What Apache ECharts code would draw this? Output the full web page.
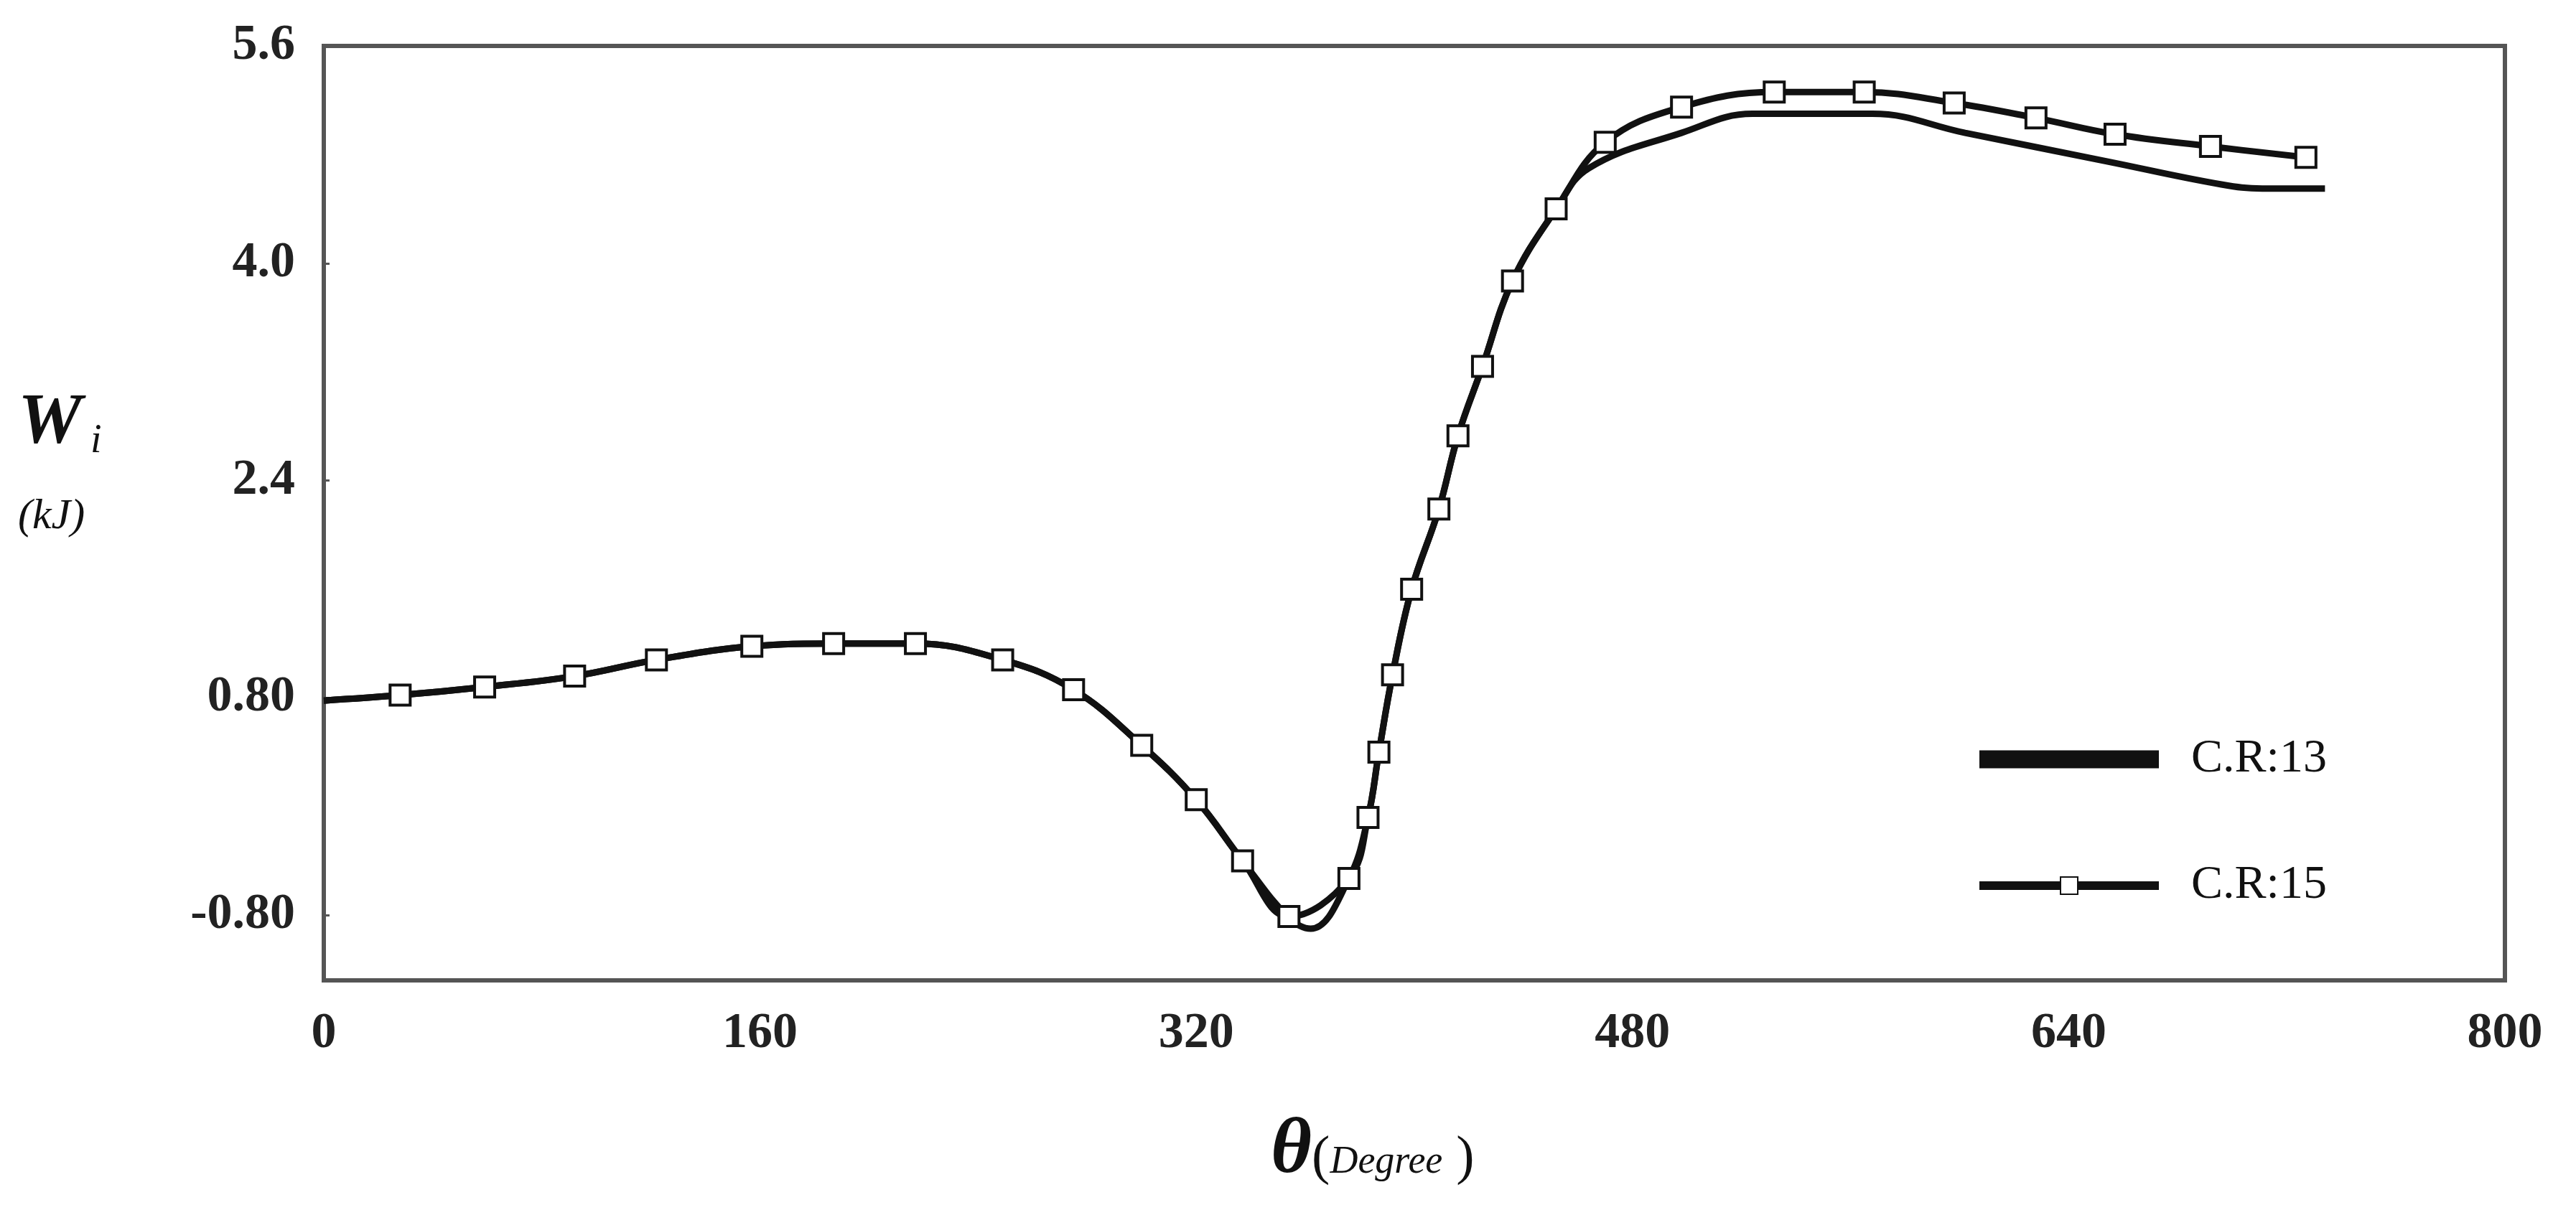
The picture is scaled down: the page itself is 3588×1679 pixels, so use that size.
<!DOCTYPE html>
<html>
<head>
<meta charset="utf-8">
<script src="https://cdn.jsdelivr.net/npm/echarts@6/dist/echarts.min.js"></script>
<style>html,body{margin:0;padding:0;background:#fff}#main{width:3588px;height:1679px}</style>
</head>
<body>
<div id="main"></div>
<script>
// crank angle (deg) and work values (kJ)
var cr15Deg = [0, 28, 59, 92, 122, 157, 187, 217, 249, 275, 300, 320, 337, 354, 376, 383, 387, 392, 399, 409, 416, 425, 436, 452, 470, 498, 532, 565, 598, 628, 657, 692, 727];
var cr15Val = [0.78, 0.82, 0.88, 0.96, 1.08, 1.18, 1.20, 1.20, 1.08, 0.86, 0.45, 0.05, -0.40, -0.81, -0.53, -0.08, 0.40, 0.97, 1.60, 2.19, 2.73, 3.24, 3.87, 4.40, 4.89, 5.15, 5.26, 5.26, 5.18, 5.07, 4.95, 4.86, 4.78];
var cr13Deg = [0, 28, 59, 92, 122, 157, 187, 217, 249, 275, 300, 320, 337, 354, 362, 376, 383, 387, 392, 399, 409, 416, 425, 436, 452, 464, 498, 524, 568, 602, 654, 696, 711, 734];
var cr13Val = [0.78, 0.82, 0.88, 0.96, 1.08, 1.18, 1.20, 1.20, 1.08, 0.86, 0.45, 0.05, -0.40, -0.82, -0.90, -0.53, -0.08, 0.40, 0.97, 1.60, 2.19, 2.73, 3.24, 3.87, 4.40, 4.70, 4.96, 5.10, 5.10, 4.96, 4.75, 4.58, 4.55, 4.55];
var yTicks = [-0.8, 0.8, 2.4, 4.0, 5.6];
var yTickLabels = ['-0.80', '0.80', '2.4', '4.0', '5.6'];

function pairs(xs, ys) {
	return xs.map(function(x, i) { return [x, ys[i]]; });
}

var font = 'Liberation Serif';
var chart = echarts.init(document.getElementById('main'));
var option = {
	backgroundColor : '#fff',
	animation : false,
	grid : { left : 451, right : 99, top : 64, bottom : 313, show : true, borderColor : '#555', borderWidth : 6 },
	legend : {
		orient : 'vertical', left : 2746, top : 1020, itemGap : 110, itemWidth : 250, itemHeight : 30,
		textStyle : { fontFamily : font, fontSize : 66, color : '#111', padding : [0, 0, 0, 40] },
		lineStyle : { width : 12, color : '#111' },
		data : [
			{ name : 'C.R:13', icon : 'path://M0,0 L10,0 L10,1 L0,1 Z', itemStyle : { color : '#111' } },
			{ name : 'C.R:15' }
		]
	},
	xAxis : {
		type : 'value', min : 0, max : 800, interval : 160,
		axisLine : { show : false }, axisTick : { show : false }, splitLine : { show : false },
		axisLabel : { fontFamily : font, fontWeight : 'bold', fontSize : 70, color : '#222', margin : 40 }
	},
	yAxis : {
		type : 'value', min : -1.28, max : 5.6,
		axisLine : { show : false }, splitLine : { show : false },
		axisTick : { show : true, inside : true, length : 8, customValues : yTicks, lineStyle : { color : '#555', width : 3 } },
		axisLabel : {
			fontFamily : font, fontWeight : 'bold', fontSize : 70, color : '#222', margin : 40,
			customValues : yTicks,
			formatter : function(v) {
				var i = yTicks.indexOf(Math.round(v * 10) / 10);
				return i >= 0 ? yTickLabels[i] : '';
			}
		}
	},
	graphic : [
		{ type : 'text', left : 25, top : 540, style : {
			text : '{w|W}{i|i}', rich : {
				w : { fontFamily : font, fontWeight : 'bold', fontStyle : 'italic', fontSize : 100, fill : '#111' },
				i : { fontFamily : font, fontStyle : 'italic', fontSize : 56, fill : '#111', padding : [50, 0, 0, 12] }
			} } },
		{ type : 'text', left : 25, top : 690, style : { text : '(kJ)', fontFamily : font, fontStyle : 'italic', fontSize : 60, fill : '#111' } },
		{ type : 'text', left : 1770, top : 1550, style : {
			text : '{t|θ}{d|(}{e|Degree}{d| )}', rich : {
				t : { fontFamily : font, fontWeight : 'bold', fontStyle : 'italic', fontSize : 110, fill : '#111' },
				d : { fontFamily : font, fontSize : 76, fill : '#111', padding : [20, 0, 0, 0] },
				e : { fontFamily : font, fontStyle : 'italic', fontSize : 54, fill : '#111', padding : [30, 0, 0, 0] }
			} } }
	],
	series : [
		{
			name : 'C.R:13', type : 'line', smooth : 0.4, showSymbol : false, symbol : 'none',
			lineStyle : { color : '#111', width : 9 }, itemStyle : { color : '#111' },
			data : pairs(cr13Deg, cr13Val)
		},
		{
			name : 'C.R:15', type : 'line', smooth : 0.4, symbol : 'rect', symbolSize : 28,
			lineStyle : { color : '#111', width : 9 },
			itemStyle : { color : '#fff', borderColor : '#111', borderWidth : 4 },
			data : pairs(cr15Deg, cr15Val).map(function(p, i) {
				return i === 0 ? { value : p, symbol : 'none' } : p;
			})
		}
	]
};
chart.setOption(option);
</script>
</body>
</html>
